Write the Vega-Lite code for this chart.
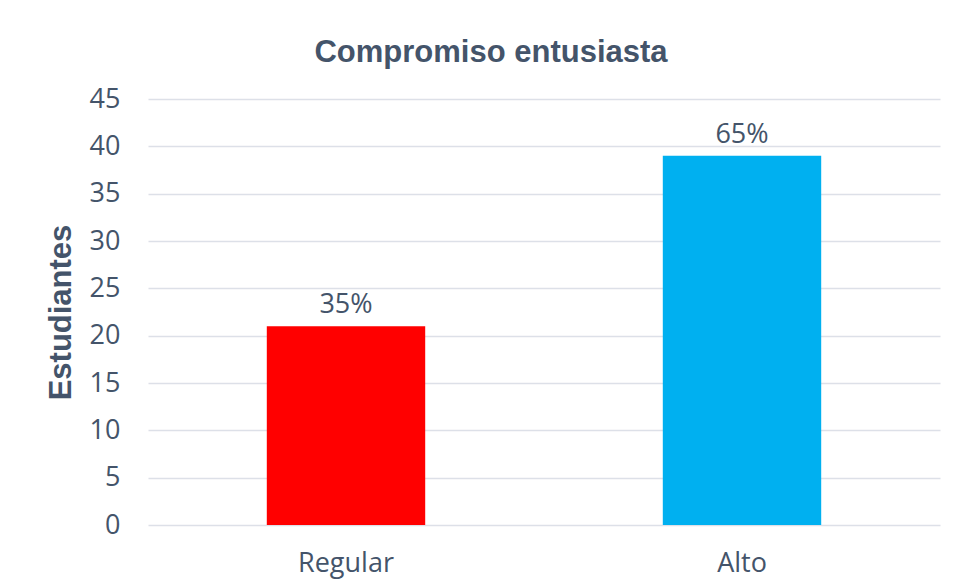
{
  "$schema": "https://vega.github.io/schema/vega-lite/v6.json",
  "width": 792,
  "height": 426,
  "autosize": {"type": "none"},
  "padding": {"left": 148, "top": 99, "right": 17, "bottom": 56},
  "background": "white",
  "title": {
    "text": "Compromiso entusiasta",
    "font": "Liberation Sans",
    "fontSize": 31,
    "fontWeight": "bold",
    "color": "#44546A",
    "anchor": "middle",
    "dx": -53,
    "offset": 16
  },
  "data": {
    "values": [
      {"nivel": "Regular", "estudiantes": 21, "pct": "35%"},
      {"nivel": "Alto", "estudiantes": 39, "pct": "65%"}
    ]
  },
  "encoding": {
    "x": {
      "field": "nivel",
      "type": "nominal",
      "sort": ["Regular", "Alto"],
      "title": null,
      "scale": {"paddingInner": 0.6, "paddingOuter": 0.3},
      "axis": {
        "labelAngle": 0,
        "labelFont": "Open Sans",
        "labelFontSize": 27,
        "labelColor": "#44546A",
        "labelPadding": 25,
        "ticks": false,
        "domain": false
      }
    },
    "y": {
      "field": "estudiantes",
      "type": "quantitative",
      "title": "Estudiantes",
      "scale": {"domain": [0, 45]},
      "axis": {
        "values": [0, 5, 10, 15, 20, 25, 30, 35, 40, 45],
        "labelFont": "Open Sans",
        "labelFontSize": 27,
        "labelColor": "#44546A",
        "labelPadding": 28,
        "ticks": false,
        "domain": false,
        "grid": true,
        "gridColor": "#DDE0E8",
        "gridWidth": 1.5,
        "titleFont": "Liberation Sans",
        "titleFontSize": 31,
        "titleFontWeight": "bold",
        "titleColor": "#44546A",
        "titlePadding": 12
      }
    }
  },
  "layer": [
    {
      "mark": {"type": "bar"},
      "encoding": {
        "color": {
          "field": "nivel",
          "type": "nominal",
          "scale": {"domain": ["Regular", "Alto"], "range": ["#FF0000", "#00B0F0"]},
          "legend": null
        }
      }
    },
    {
      "mark": {
        "type": "text",
        "baseline": "alphabetic",
        "dy": -13,
        "font": "Open Sans",
        "fontSize": 27,
        "color": "#44546A"
      },
      "encoding": {"text": {"field": "pct"}}
    }
  ],
  "config": {"view": {"stroke": null}}
}
